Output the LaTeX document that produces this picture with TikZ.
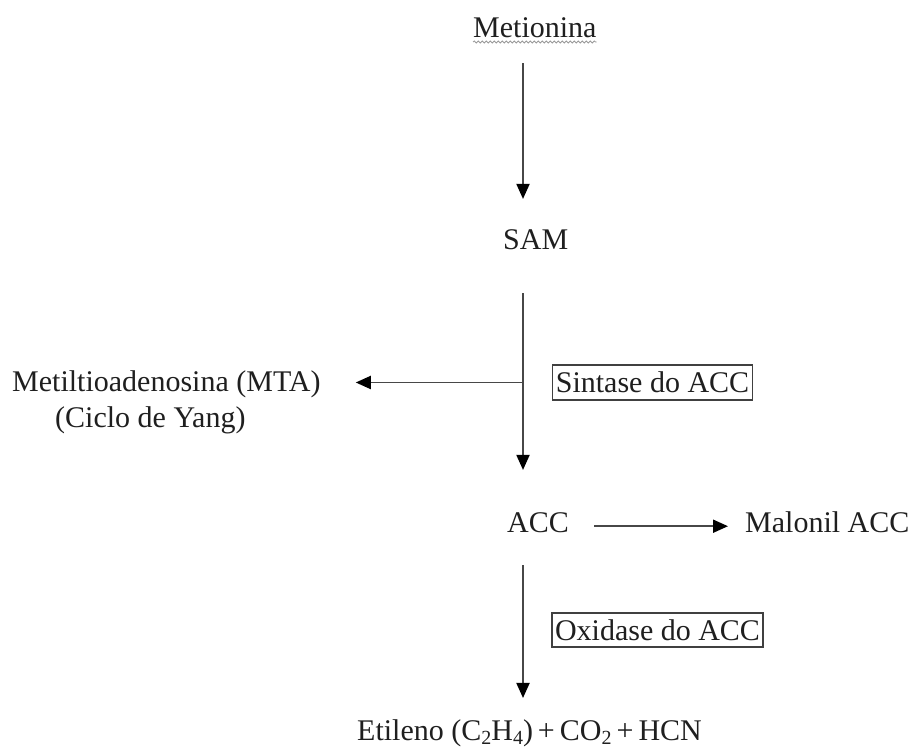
\documentclass[tikz,border=0pt]{standalone}
\usepackage{fontspec}
\setmainfont{Liberation Serif}
\usetikzlibrary{arrows.meta,decorations.pathmorphing}
\newcommand{\chemsub}[1]{\raisebox{-4pt}{\fontsize{20}{20}\selectfont #1}}
\begin{document}
\begin{tikzpicture}[x=1pt,y=1pt,
  every node/.style={font=\fontsize{30}{34}\selectfont, text=black!88, inner sep=0pt},
  lbl/.style={anchor=base west},
  enzbox/.style={draw=black!75, line width=1.3pt, inner xsep=3pt, minimum height=35pt},
  arr/.style={draw=black!72, line width=1.9pt, -{Triangle[width=13pt,length=15pt,color=black]}}]
\useasboundingbox (0,0) rectangle (912,751);
\coordinate (spine) at (523,0);
\node[lbl] (met) at (473,713) {Metionina};
\node[lbl] (sam) at (503,501) {SAM};
\node[lbl] (mta) at (12,359) {Metiltioadenosina (MTA)};
\node[lbl] (yang) at (55,323) {(Ciclo de Yang)};
\node[enzbox] (sint) at (652.5,368.5) {Sintase do ACC};
\node[lbl] (acc) at (507,218) {ACC};
\node[lbl] (mal) at (745,218) {Malonil ACC};
\node[enzbox, minimum height=34pt] (oxi) at (657.5,121) {Oxidase do ACC};
\node[lbl] (ety) at (357,10) {Etileno (C\chemsub{2}H\chemsub{4})\,+\,CO\chemsub{2}\,+\,HCN};
% spell-check underline
\draw[black!40, line width=0.8pt, decorate, decoration={snake, amplitude=1pt, segment length=4pt}]
  ([yshift=-4pt]met.base west) -- ([yshift=-4pt]met.base east);
% connectors
\draw[arr, shorten <=25pt, shorten >=31pt] (met.south -| spine) -- (sam.north -| spine);
\draw[arr, shorten <=43pt, shorten >=43pt] (sam.south -| spine) -- (acc.north -| spine);
\draw[arr, shorten >=35pt] (spine |- sint.center) -- (mta.east |- sint.center);
\draw[arr, shorten <=32pt, shorten >=22pt] (acc.south -| spine) -- (ety.north -| spine);
\draw[arr, shorten <=25pt, shorten >=17pt] ([yshift=-3pt]acc.east) -- ([yshift=-3pt]acc.east -| mal.west);
\end{tikzpicture}
\end{document}
